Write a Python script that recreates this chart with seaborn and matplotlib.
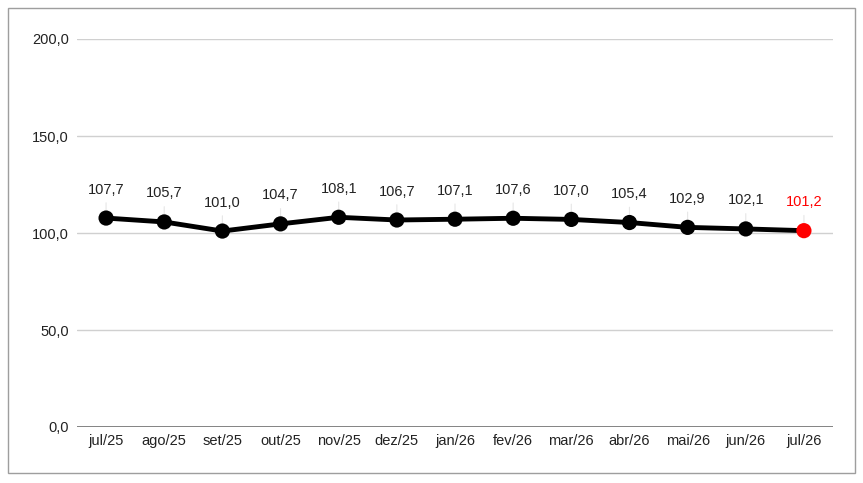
import matplotlib
matplotlib.use("Agg")
import matplotlib.pyplot as plt
import seaborn as sns
import pandas as pd

# data
months = ["jul/25", "ago/25", "set/25", "out/25", "nov/25", "dez/25", "jan/26",
          "fev/26", "mar/26", "abr/26", "mai/26", "jun/26", "jul/26"]
values = [107.7, 105.7, 101.0, 104.7, 108.1, 106.7, 107.1, 107.6, 107.0, 105.4, 102.9, 102.1, 101.2]
y_ticks = [0, 50, 100, 150, 200]

sns.set_theme(style="white")
plt.rcParams["font.family"] = ["Liberation Sans", "DejaVu Sans"]

df = pd.DataFrame({"mes": months, "valor": values})
df["pos"] = range(len(df))

fig = plt.figure(figsize=(8.63, 4.83), dpi=100)
ax = fig.add_axes([77 / 863, 1 - 427 / 483, 756 / 863, 388 / 483])

# frame around the whole picture
fig.patches.append(plt.Rectangle((8 / 863, 1 - 473 / 483), 847 / 863, 465 / 483,
                                 transform=fig.transFigure, fill=False,
                                 edgecolor="#9e9e9e", linewidth=1))

for t in y_ticks[1:]:
    ax.axhline(t, color="#d0d0d0", linewidth=1, zorder=0)
ax.axhline(0, color="#7a7a7a", linewidth=1.3, zorder=1)

sns.lineplot(data=df, x="pos", y="valor", color="black", linewidth=3.5, ax=ax, zorder=3)
colors = ["black"] * (len(df) - 1) + ["#ff0000"]
ax.scatter(df["pos"], df["valor"], s=120, c=colors, zorder=4, linewidths=0)

# value labels with thin leader lines
for i, v in enumerate(values):
    col = colors[i]
    ax.annotate(f"{v:.1f}".replace(".", ","), xy=(i, v), xytext=(0, 20.5),
                textcoords="offset points", ha="center", va="center",
                fontsize=10.5, color=col if i == len(values) - 1 else "#222222")
    ax.annotate("", xy=(i, v), xytext=(0, 13), textcoords="offset points",
                arrowprops=dict(arrowstyle="-", color="#e6e6e6", linewidth=0.8))

ax.set_xlim(-0.5, len(df) - 0.5)
ax.set_ylim(0, 200)
ax.set_yticks(y_ticks)
ax.set_yticklabels([f"{t:.1f}".replace(".", ",") for t in y_ticks])
ax.set_xticks(df["pos"])
ax.set_xticklabels(months)
ax.tick_params(axis="both", length=0, labelsize=10.5, colors="#222222")
ax.tick_params(axis="y", pad=6)
ax.tick_params(axis="x", pad=5)
ax.set_xlabel("")
ax.set_ylabel("")
for s in ax.spines.values():
    s.set_visible(False)

fig.savefig("out.png", dpi=100)
